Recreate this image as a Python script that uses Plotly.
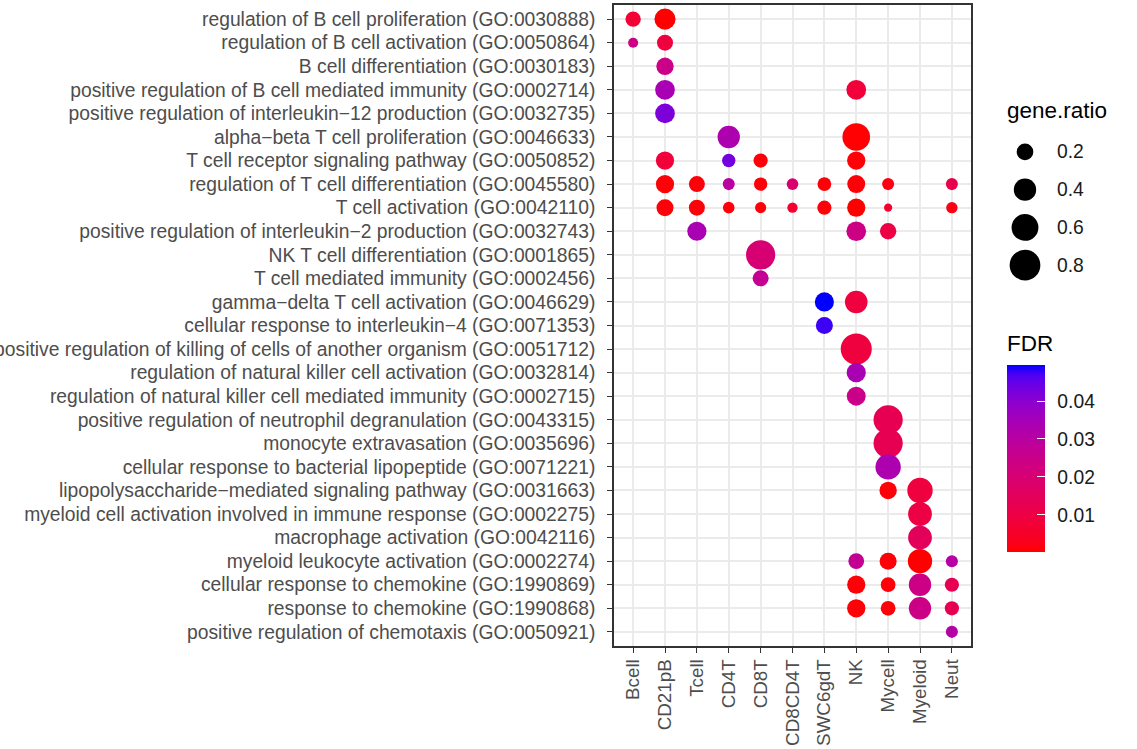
import math
import plotly.graph_objects as go

# ---------------- data ----------------
terms = [
    "regulation of B cell proliferation (GO:0030888)",
    "regulation of B cell activation (GO:0050864)",
    "B cell differentiation (GO:0030183)",
    "positive regulation of B cell mediated immunity (GO:0002714)",
    "positive regulation of interleukin\u221212 production (GO:0032735)",
    "alpha\u2212beta T cell proliferation (GO:0046633)",
    "T cell receptor signaling pathway (GO:0050852)",
    "regulation of T cell differentiation (GO:0045580)",
    "T cell activation (GO:0042110)",
    "positive regulation of interleukin\u22122 production (GO:0032743)",
    "NK T cell differentiation (GO:0001865)",
    "T cell mediated immunity (GO:0002456)",
    "gamma\u2212delta T cell activation (GO:0046629)",
    "cellular response to interleukin\u22124 (GO:0071353)",
    "positive regulation of killing of cells of another organism (GO:0051712)",
    "regulation of natural killer cell activation (GO:0032814)",
    "regulation of natural killer cell mediated immunity (GO:0002715)",
    "positive regulation of neutrophil degranulation (GO:0043315)",
    "monocyte extravasation (GO:0035696)",
    "cellular response to bacterial lipopeptide (GO:0071221)",
    "lipopolysaccharide\u2212mediated signaling pathway (GO:0031663)",
    "myeloid cell activation involved in immune response (GO:0002275)",
    "macrophage activation (GO:0042116)",
    "myeloid leukocyte activation (GO:0002274)",
    "cellular response to chemokine (GO:1990869)",
    "response to chemokine (GO:1990868)",
    "positive regulation of chemotaxis (GO:0050921)",
]

cells = ["Bcell", "CD21pB", "Tcell", "CD4T", "CD8T", "CD8CD4T",
         "SWC6gdT", "NK", "Mycell", "Myeloid", "Neut"]

point_term = [0, 0,
              1, 1,
              2,
              3, 3,
              4,
              5, 5,
              6, 6, 6, 6,
              7, 7, 7, 7, 7, 7, 7, 7, 7,
              8, 8, 8, 8, 8, 8, 8, 8, 8,
              9, 9, 9,
              10,
              11,
              12, 12,
              13,
              14,
              15,
              16,
              17,
              18,
              19,
              20, 20,
              21,
              22,
              23, 23, 23, 23,
              24, 24, 24, 24,
              25, 25, 25, 25,
              26]

point_cell = ["Bcell", "CD21pB",
              "Bcell", "CD21pB",
              "CD21pB",
              "CD21pB", "NK",
              "CD21pB",
              "CD4T", "NK",
              "CD21pB", "CD4T", "CD8T", "NK",
              "CD21pB", "Tcell", "CD4T", "CD8T", "CD8CD4T", "SWC6gdT", "NK", "Mycell", "Neut",
              "CD21pB", "Tcell", "CD4T", "CD8T", "CD8CD4T", "SWC6gdT", "NK", "Mycell", "Neut",
              "Tcell", "NK", "Mycell",
              "CD8T",
              "CD8T",
              "SWC6gdT", "NK",
              "SWC6gdT",
              "NK",
              "NK",
              "NK",
              "Mycell",
              "Mycell",
              "Mycell",
              "Mycell", "Myeloid",
              "Myeloid",
              "Myeloid",
              "NK", "Mycell", "Myeloid", "Neut",
              "NK", "Mycell", "Myeloid", "Neut",
              "NK", "Mycell", "Myeloid", "Neut",
              "Neut"]

gene_ratio = [0.16, 0.35,
              0.04, 0.18,
              0.22,
              0.30, 0.30,
              0.30,
              0.40, 0.64,
              0.25, 0.11, 0.13, 0.25,
              0.25, 0.18, 0.08, 0.11, 0.07, 0.12, 0.24, 0.08, 0.08,
              0.21, 0.18, 0.07, 0.06, 0.045, 0.13, 0.25, 0.01, 0.065,
              0.28, 0.30, 0.19,
              0.72,
              0.18,
              0.28, 0.41,
              0.21,
              0.82,
              0.28,
              0.27,
              0.72,
              0.72,
              0.53,
              0.22, 0.53,
              0.46,
              0.46,
              0.17, 0.21, 0.48, 0.08,
              0.25, 0.145, 0.40, 0.13,
              0.25, 0.145, 0.40, 0.13,
              0.08]

fdr = [0.007, 0.0002,
       0.024, 0.009,
       0.025,
       0.034, 0.008,
       0.042,
       0.033, 0.0005,
       0.008, 0.043, 0.001, 0.001,
       0.001, 0.001, 0.030, 0.001, 0.019, 0.001, 0.001, 0.002, 0.012,
       0.001, 0.001, 0.001, 0.001, 0.006, 0.001, 0.0003, 0.006, 0.002,
       0.034, 0.024, 0.010,
       0.020,
       0.027,
       0.0495, 0.009,
       0.0475,
       0.009,
       0.034,
       0.025,
       0.013,
       0.013,
       0.033,
       0.001, 0.009,
       0.010,
       0.015,
       0.027, 0.001, 0.0003, 0.031,
       0.001, 0.001, 0.024, 0.013,
       0.001, 0.001, 0.024, 0.013,
       0.031]

size_breaks = [0.2, 0.4, 0.6, 0.8]
fdr_breaks = [0.01, 0.02, 0.03, 0.04]

# ---------------- styling helpers ----------------
W, H = 1137, 749
ML, MR, MT, MB = 614, 10, 5, 103
PW, PH = W - ML - MR, H - MT - MB


def px_x(p):
    return (p - ML) / PW


def px_y(p):
    return (H - MB - p) / PH


def diam(v):
    return math.sqrt(57 + 1107 * v)


# Lab interpolation red -> blue (like ggplot2 scale_colour_gradient)
def _lin(c):
    c = c / 255.0
    return c / 12.92 if c <= 0.04045 else ((c + 0.055) / 1.055) ** 2.4


def _gam(c):
    c = max(0.0, min(1.0, c))
    return 12.92 * c if c <= 0.0031308 else 1.055 * c ** (1 / 2.4) - 0.055


WX, WY, WZ = 0.95047, 1.0, 1.08883


def rgb2lab(rgb):
    r, g, b = [_lin(c) for c in rgb]
    x = 0.4124 * r + 0.3576 * g + 0.1805 * b
    y = 0.2126 * r + 0.7152 * g + 0.0722 * b
    z = 0.0193 * r + 0.1192 * g + 0.9505 * b

    def f(t):
        return t ** (1 / 3) if t > 0.008856 else 7.787 * t + 16 / 116
    fx, fy, fz = f(x / WX), f(y / WY), f(z / WZ)
    return (116 * fy - 16, 500 * (fx - fy), 200 * (fy - fz))


def lab2rgb(lab):
    L, a, b = lab
    fy = (L + 16) / 116
    fx = fy + a / 500
    fz = fy - b / 200

    def fi(t):
        return t ** 3 if t ** 3 > 0.008856 else (t - 16 / 116) / 7.787
    x, y, z = WX * fi(fx), WY * fi(fy), WZ * fi(fz)
    r = 3.2406 * x - 1.5372 * y - 0.4986 * z
    g = -0.9689 * x + 1.8758 * y + 0.0415 * z
    bb = 0.0557 * x - 0.2040 * y + 1.0570 * z
    return tuple(int(round(_gam(c) * 255)) for c in (r, g, bb))


lab_lo, lab_hi = rgb2lab((255, 0, 0)), rgb2lab((0, 0, 255))
colorscale = []
N = 20
for i in range(N + 1):
    t = i / N
    lab = tuple(lab_lo[k] + (lab_hi[k] - lab_lo[k]) * t for k in range(3))
    r, g, b = lab2rgb(lab)
    colorscale.append([t, f"rgb({r},{g},{b})"])

FONT = "Liberation Sans, Arial, Helvetica, sans-serif"
TXT = 19.3
TITLE = 22.5

cbar_pos = dict(
    x=px_x(1007), xanchor="left", xpad=0,
    y=px_y(458.5), yanchor="middle", ypad=0,
    lenmode="pixels", len=187,
    thicknessmode="pixels", thickness=38,
    outlinewidth=0,
    tickvals=fdr_breaks,
)

fig = go.Figure()

fig.add_trace(go.Scatter(
    x=point_cell,
    y=[terms[i] for i in point_term],
    mode="markers",
    marker=dict(
        size=[diam(v) for v in gene_ratio],
        sizemode="diameter",
        color=fdr,
        colorscale=colorscale,
        cmin=min(fdr),
        cmax=max(fdr),
        opacity=1,
        line=dict(width=0),
        colorbar=dict(
            cbar_pos,
            ticks="outside", ticklen=9, tickcolor="rgba(255,255,255,0)",
            ticktext=[f"{v:.2f}" for v in fdr_breaks],
            tickfont=dict(family=FONT, size=TXT, color="#1a1a1a"),
        ),
    ),
    showlegend=False,
    hoverinfo="skip",
))

# size legend (drawn on its own hidden axes)
fig.add_trace(go.Scatter(
    x=[0.2083] * len(size_breaks),
    y=size_breaks,
    xaxis="x2", yaxis="y2",
    mode="markers",
    marker=dict(size=[diam(v) for v in size_breaks], color="#000000",
                opacity=1, line=dict(width=0)),
    showlegend=False,
    hoverinfo="skip",
))

# overlay colour bar carrying the white inner tick marks
fig.add_trace(go.Scatter(
    x=[point_cell[0]],
    y=[terms[point_term[0]]],
    mode="markers",
    marker=dict(
        size=1, opacity=0,
        color=[fdr[0]],
        colorscale=colorscale,
        cmin=min(fdr),
        cmax=max(fdr),
        showscale=True,
        colorbar=dict(
            cbar_pos,
            ticks="inside", ticklen=8, tickcolor="white", tickwidth=1,
            showticklabels=False,
        ),
    ),
    showlegend=False,
    hoverinfo="skip",
))

annotations = []
for v in size_breaks:
    annotations.append(dict(
        x=0.46, y=v, xref="x2", yref="y2", text=f"{v:.1f}", showarrow=False,
        xanchor="left", yanchor="middle",
        font=dict(family=FONT, size=TXT, color="#1a1a1a"),
    ))
annotations.append(dict(
    x=px_x(1005), y=px_y(110), xref="paper", yref="paper", text="gene.ratio",
    showarrow=False, xanchor="left", yanchor="middle",
    font=dict(family=FONT, size=TITLE, color="black"),
))
annotations.append(dict(
    x=px_x(1005), y=px_y(343), xref="paper", yref="paper", text="FDR",
    showarrow=False, xanchor="left", yanchor="middle",
    font=dict(family=FONT, size=TITLE, color="black"),
))

axis_common = dict(
    showgrid=True, gridcolor="#EBEBEB", gridwidth=1.5,
    showline=True, linecolor="#333333", linewidth=1.5, mirror=True,
    ticks="outside", ticklen=5, tickcolor="#333333", tickwidth=1.2,
    tickfont=dict(family=FONT, size=TXT, color="#4D4D4D"),
    zeroline=False,
    automargin=False,
)

fig.update_layout(
    width=W, height=H,
    margin=dict(l=ML, r=MR, t=MT, b=MB, pad=0),
    paper_bgcolor="white", plot_bgcolor="white",
    xaxis=dict(
        axis_common,
        domain=[0, 357 / PW],
        type="category", categoryorder="array", categoryarray=cells,
        range=[-0.6, len(cells) - 1 + 0.6],
        tickangle=-90,
        tickfont=dict(family=FONT, size=18.8, color="#4D4D4D"),
        ticklabelstandoff=-1,
    ),
    yaxis=dict(
        axis_common,
        domain=[0, 1],
        type="category", categoryorder="array", categoryarray=terms,
        range=[len(terms) - 1 + 0.6, -0.6],
        ticklabelstandoff=8,
    ),
    xaxis2=dict(domain=[px_x(1000), px_x(1120)], range=[0, 1], visible=False,
                anchor="y2", fixedrange=True, automargin=False),
    yaxis2=dict(domain=[px_y(284), px_y(133)], range=[0.9, 0.1], visible=False,
                anchor="x2", fixedrange=True, automargin=False),
    annotations=annotations,
    font=dict(family=FONT),
)

fig.write_html(
    "out.html",
    config={"displayModeBar": False},
    post_script="document.body.style.margin='0px';document.body.style.overflow='hidden';",
)
